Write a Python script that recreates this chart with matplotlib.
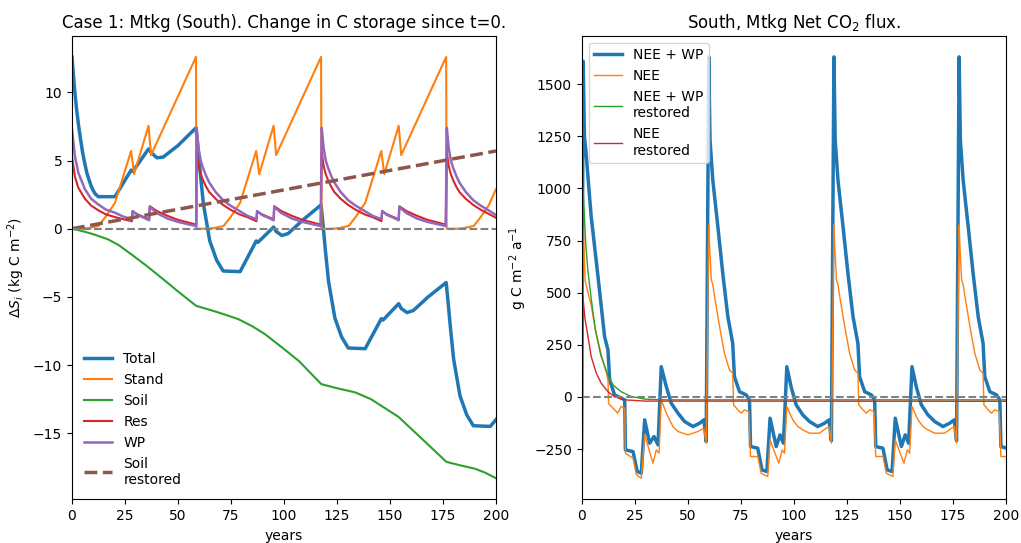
"""
Case 1, Mtkg (South): change in C storage since t=0 and the net CO2 flux.
Values were read off the published figure (rotation ~59 a, two thinnings).
"""

import matplotlib
matplotlib.use("Agg")
import matplotlib.pyplot as plt

# ── Left panel: storage change (kg C m-2) ────────────────────────────────────

years_total = [0, 1, 2, 3, 4, 5, 6, 7, 8, 9, 10, 11, 12.4, 20.3, 27.9, 28.7, 36.1, 37.3, 40, 43, 50, 58.5,
               59.5, 60.5, 62, 65, 68.2, 71.3, 79.3, 86.9, 87.7, 95.1, 96.3, 99, 102, 109, 117.5,
               118.5, 119.5, 121, 124, 127.2, 130.3, 138.3, 145.9, 146.7, 154.1, 155.3, 158, 161, 168, 176.5,
               177.5, 178.5, 180, 183, 186.2, 189.3, 197.3, 200]
total = [12.6, 10.6, 9.0, 7.7, 6.6, 5.6, 4.8, 4.1, 3.6, 3.15, 2.8, 2.55, 2.35, 2.35, 4.3, 4.2, 5.85, 5.6, 5.2, 5.25, 6.1, 7.4,
         5.8, 4.1, 1.8, -0.9, -2.3, -3.1, -3.15, -0.9, -1.0, 0.12, -0.2, -0.5, -0.35, 0.65, 1.75,
         0.15, -1.55, -3.85, -6.55, -7.95, -8.75, -8.8, -6.6, -6.7, -5.5, -5.85, -6.15, -6.0, -5.0, -3.95,
         -5.55, -7.25, -9.55, -12.25, -13.65, -14.45, -14.5, -14.0]

years_stand = [0, 5, 8, 12.5, 16, 20.3, 27.9, 29.3, 36.1, 37.3, 58.5,
               58.7, 64, 67, 71.5, 75, 79.3, 86.9, 88.3, 95.1, 96.3, 117.5,
               117.7, 123, 126, 130.5, 134, 138.3, 145.9, 147.3, 154.1, 155.3, 176.5,
               176.7, 182, 185, 189.5, 193, 196.5, 200]
stand = [0, 0, 0.05, 0.2, 0.9, 1.9, 5.7, 4.0, 7.55, 5.4, 12.6,
         0, 0, 0.05, 0.2, 0.9, 1.9, 5.7, 4.0, 7.55, 5.4, 12.6,
         0, 0, 0.05, 0.2, 0.9, 1.9, 5.7, 4.0, 7.55, 5.4, 12.6,
         0, 0, 0.05, 0.2, 0.9, 1.7, 2.9]

years_soil = [0, 5, 10, 17, 22, 28, 35, 44, 50, 58.6, 65, 70.6, 78.4, 85, 91, 99, 107, 117.6,
              125, 133.5, 141, 148, 154, 165, 176.6, 183, 190, 195, 200]
soil = [0, -0.18, -0.4, -0.78, -1.2, -1.88, -2.7, -3.83, -4.6, -5.66, -5.95, -6.22, -6.63, -7.15, -7.73, -8.7, -9.7, -11.4,
        -11.7, -12.0, -12.5, -13.2, -13.8, -15.4, -17.1, -17.35, -17.6, -17.9, -18.3]

years_pool = [0, 1.4, 3, 6.1, 9, 12.4, 16, 20.3, 24, 28.3, 28.6, 31, 34, 36.4, 36.7, 40, 45, 50, 55, 58.6,
              58.8, 59.7, 60.7, 61.7, 63.2, 64.7, 67.7, 71.2, 74.7, 79.0, 82.7, 87.0, 87.3, 89.7, 92.7, 95.1, 95.4,
              98.7, 103.7, 108.7, 113.7, 117.3,
              117.8, 118.7, 119.7, 120.7, 122.2, 123.7, 126.7, 130.2, 133.7, 138.0, 141.7, 146.0, 146.3, 148.7,
              151.7, 154.1, 154.4, 157.7, 162.7, 167.7, 172.7, 176.3,
              176.8, 177.7, 178.7, 179.7, 181.2, 182.7, 185.7, 189.2, 192.7, 197.0, 200]
res = [5.3, 3.8, 3.0, 2.2, 1.7, 1.35, 1.05, 0.85, 0.7, 0.55, 1.25, 1.05, 0.85, 0.7, 1.65, 1.3, 0.95, 0.65, 0.45, 0.3,
       5.6, 4.6, 4.0, 3.6, 3.1, 2.7, 2.2, 1.75, 1.4, 1.05, 0.85, 0.55, 1.25, 1.05, 0.85, 0.7, 1.65,
       1.3, 0.95, 0.65, 0.45, 0.3,
       5.6, 4.6, 4.0, 3.6, 3.1, 2.7, 2.2, 1.75, 1.4, 1.05, 0.85, 0.55, 1.25, 1.05,
       0.85, 0.7, 1.65, 1.3, 0.95, 0.65, 0.45, 0.3,
       5.6, 4.6, 4.0, 3.6, 3.1, 2.7, 2.2, 1.75, 1.4, 1.05, 0.8]
wp = [7.3, 5.3, 4.1, 2.9, 2.2, 1.78, 1.4, 1.17, 0.9, 0.66, 1.3, 1.0, 0.8, 0.62, 1.6, 1.15, 0.75, 0.5, 0.32, 0.2,
      7.4, 5.9, 5.0, 4.5, 3.9, 3.4, 2.7, 2.1, 1.7, 1.3, 0.95, 0.7, 1.3, 1.0, 0.8, 0.62, 1.6,
      1.15, 0.75, 0.5, 0.32, 0.2,
      7.4, 5.9, 5.0, 4.5, 3.9, 3.4, 2.7, 2.1, 1.7, 1.3, 0.95, 0.7, 1.3, 1.0,
      0.8, 0.62, 1.6, 1.15, 0.75, 0.5, 0.32, 0.2,
      7.4, 5.9, 5.0, 4.5, 3.9, 3.4, 2.7, 2.1, 1.7, 1.3, 1.0]

years_soil_rest = [0, 200]
soil_rest = [0, 5.7]

# ── Right panel: net CO2 flux (g C m-2 a-1) ──────────────────────────────────

years_nee_wp = [0, 0.7, 1.3, 2, 3.4, 4.5, 7.7, 10.8, 12.4, 13.2, 15.5, 18.6, 20.3, 20.6, 24.2,
                26.2, 28.1, 29.7, 32, 34.1, 36, 37.5, 39.9, 42.2, 45.4, 48.5, 52.5, 55.6, 57.6, 58.7,
                59.9, 60.5, 61.8, 64.2, 66.5, 68.9, 71.2, 72.0, 74.4, 77.5, 79.1, 79.6, 83.0, 85.0,
                87.3, 88.8, 91.7, 93.5, 95.1, 96.7, 98.7, 101.1, 104.2, 107.4, 111.3, 114.5, 116.6, 117.7,
                118.9, 119.5, 120.8, 123.2, 125.5, 127.9, 130.2, 131.0, 133.4, 136.5, 138.1, 138.6, 142.0, 144.0,
                146.3, 147.8, 150.7, 152.5, 154.1, 155.7, 157.7, 160.1, 163.2, 166.4, 170.3, 173.5, 175.6, 176.7,
                177.9, 178.5, 179.8, 182.2, 184.5, 186.9, 189.2, 190.0, 192.4, 195.5, 197.1, 197.6, 200]
nee_wp = [-250, 1610, 1250, 1180, 1000, 864, 577, 289, 225, 81, 10, -6, -14, -254, -262,
          -358, -366, -110, -222, -190, -230, 145, 49, -30, -78, -118, -142, -126, -110, -214,
          1631, 1232, 1040, 816, 593, 385, 257, 97, 25, 10, -14, -238, -246, -350,
          -358, -102, -238, -182, -222, 145, 49, -38, -86, -118, -142, -126, -110, -210,
          1631, 1232, 1040, 816, 593, 385, 257, 97, 25, 10, -14, -238, -246, -350,
          -358, -102, -238, -182, -222, 145, 49, -38, -86, -118, -142, -126, -110, -210,
          1631, 1232, 1040, 816, 593, 385, 257, 97, 25, 10, -14, -238, -245]

years_nee = [0, 0.8, 1.6, 3, 4.5, 6.5, 9.3, 11.7, 12.4, 12.7, 15.5, 17, 18.6, 20.3, 20.6,
             24.2, 25.8, 28.1, 29.7, 33.6, 35.2, 36.5, 37.5, 39.9, 43, 45.4, 50.1, 54.8, 57.6, 58.7,
             59.9, 60.3, 61.1, 61.8, 62.4, 65.0, 67.3, 69.7, 71.2, 71.6, 73.6, 75.2, 76.7, 78.8, 79.6,
             83.0, 84.6, 87.7, 88.8, 92.9, 94.5, 95.6, 96.7, 99.5, 101.9, 104.2, 107.4, 112.1, 115.3, 116.6, 117.7,
             118.9, 119.3, 120.1, 120.8, 121.4, 124.0, 126.3, 128.7, 130.2, 130.6, 132.6, 134.2, 135.7, 137.8, 138.6,
             142.0, 143.6, 146.7, 147.8, 151.9, 153.5, 154.6, 155.7, 158.5, 160.9, 163.2, 166.4, 171.1, 174.3, 175.6, 176.7,
             177.9, 178.3, 179.1, 179.8, 180.4, 183.0, 185.3, 187.7, 189.2, 189.6, 191.6, 193.2, 194.7, 196.8, 197.6, 200]
nee = [-290, 816, 560, 500, 440, 320, 200, 114, 81, -32, -62, -78, -46, -54, -270,
       -294, -374, -390, -182, -318, -254, -270, -14, -78, -142, -166, -182, -166, -150, -222,
       825, 720, 561, 540, 497, 337, 209, 129, 114, -38, -62, -78, -62, -70, -286,
       -286, -366, -382, -206, -318, -254, -270, -46, -110, -142, -158, -174, -174, -150, -142, -222,
       825, 720, 561, 540, 497, 337, 209, 129, 114, -38, -62, -78, -62, -70, -286,
       -286, -366, -382, -206, -318, -254, -270, -46, -110, -142, -158, -174, -174, -150, -142, -222,
       825, 720, 561, 540, 497, 337, 209, 129, 114, -38, -62, -78, -62, -70, -286, -286]

years_nee_wp_rest = [0, 0.7, 2, 3, 4.5, 6.5, 9, 12.5, 15, 18.6, 23, 30, 40, 200]
nee_wp_rest = [0, 980, 720, 600, 470, 320, 200, 100, 55, 25, 3, -11, -14, -14]

years_nee_rest = [0, 0.6, 1.5, 3, 4.5, 6.9, 9.2, 12.4, 15.5, 20.3, 30, 200]
nee_rest = [0, 480, 380, 289, 193, 114, 66, 25, 1, -14, -20, -21]


fig = plt.figure(figsize=(10.21, 5.43), dpi=100)
ax1 = fig.add_axes([0.0705, 0.0805, 0.4153, 0.8535])
ax2 = fig.add_axes([0.5697, 0.0805, 0.4156, 0.8535])

# ── left ──
ax1.plot(years_total, total, color="C0", lw=2.5, label="Total")
ax1.plot(years_stand, stand, color="C1", lw=1.5, label="Stand")
ax1.plot(years_soil, soil, color="C2", lw=1.5, label="Soil")
ax1.plot(years_pool, res, color="C3", lw=1.5, label="Res")
ax1.plot(years_pool, wp, color="C4", lw=1.8, label="WP")
ax1.plot(years_soil_rest, soil_rest, color="C5", lw=2.5, ls="--", label="Soil\nrestored")
ax1.axhline(0, color="gray", ls="--", lw=1.5)
ax1.set_xlim(0, 200)
ax1.set_xlabel("years")
ax1.set_ylabel(r"$\Delta S_i$ (kg C m$^{-2}$)")
ax1.set_title("Case 1: Mtkg (South). Change in C storage since t=0.")
ax1.legend(loc="lower left", frameon=False)

# ── right ──
ax2.plot(years_nee_wp, nee_wp, color="C0", lw=2.5, label="NEE + WP")
ax2.plot(years_nee, nee, color="C1", lw=1.0, label="NEE")
ax2.plot(years_nee_wp_rest, nee_wp_rest, color="C2", lw=1.0, label="NEE + WP\nrestored")
ax2.plot(years_nee_rest, nee_rest, color="C3", lw=1.0, label="NEE\nrestored")
ax2.axhline(0, color="gray", ls="--", lw=1.5)
ax2.set_xlim(0, 200)
ax2.set_xlabel("years")
ax2.set_ylabel(r"g C m$^{-2}$ a$^{-1}$")
ax2.set_title(r"South, Mtkg Net CO$_2$ flux.")
ax2.legend(loc="upper left")

plt.savefig("out.png", dpi=100)
plt.close()
